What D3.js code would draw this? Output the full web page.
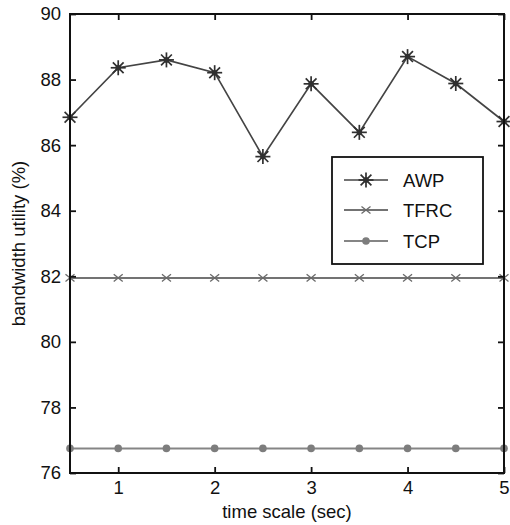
<!DOCTYPE html>
<html>
<head>
<meta charset="utf-8">
<script src="https://cdn.jsdelivr.net/npm/d3@7"></script>
<style>
  html, body { margin: 0; padding: 0; background: #fff; }
  svg text { font-family: "Liberation Sans", Arial, Helvetica, sans-serif; fill: #111; }
</style>
</head>
<body>
<svg id="chart" width="510" height="525"></svg>
<script>
// Time scale (sec) at which bandwidth utility was measured
const timeScale = [0.5, 1, 1.5, 2, 2.5, 3, 3.5, 4, 4.5, 5];
// Bandwidth utility (%) per protocol
const awp  = [86.85, 88.36, 88.6, 88.21, 85.65, 87.87, 86.39, 88.7, 87.88, 86.72];
const tfrc = [81.95, 81.95, 81.95, 81.95, 81.95, 81.95, 81.95, 81.95, 81.95, 81.95];
const tcp  = [76.75, 76.75, 76.75, 76.75, 76.75, 76.75, 76.75, 76.75, 76.75, 76.75];
const seriesNames = ["AWP", "TFRC", "TCP"];
const xTicks = [1, 2, 3, 4, 5];
const yTicks = [76, 78, 80, 82, 84, 86, 88, 90];

const svg = d3.select("#chart");
const plotLeft = 70, plotRight = 504, plotTop = 14, plotBottom = 473;
const fontSize = 18.5;

const x = d3.scaleLinear().domain([0.5, 5]).range([plotLeft, plotRight]);
const y = d3.scaleLinear().domain([76, 90]).range([plotBottom, plotTop]);

// Marker shapes: asterisk, cross, filled dot
function asterisk(g, cx, cy, r, color) {
  const p = g.append("g").attr("transform", `translate(${cx},${cy})`)
    .attr("stroke", color).attr("stroke-width", 1.7).attr("fill", "none");
  p.append("line").attr("x1", -r).attr("x2", r).attr("y1", 0).attr("y2", 0);
  p.append("line").attr("x1", 0).attr("x2", 0).attr("y1", -r).attr("y2", r);
  const d = r * 0.72;
  p.append("line").attr("x1", -d).attr("x2", d).attr("y1", -d).attr("y2", d);
  p.append("line").attr("x1", -d).attr("x2", d).attr("y1", d).attr("y2", -d);
  p.append("circle").attr("r", 2.8).attr("fill", color).attr("stroke", "none");
}
function cross(g, cx, cy, r, color) {
  const p = g.append("g").attr("transform", `translate(${cx},${cy})`)
    .attr("stroke", color).attr("stroke-width", 1.3).attr("fill", "none");
  p.append("line").attr("x1", -r).attr("x2", r).attr("y1", -r * 0.8).attr("y2", r * 0.8);
  p.append("line").attr("x1", -r).attr("x2", r).attr("y1", r * 0.8).attr("y2", -r * 0.8);
}
function dot(g, cx, cy, r, color) {
  g.append("circle").attr("cx", cx).attr("cy", cy).attr("r", r).attr("fill", color);
}

const styles = {
  AWP:  { data: awp,  line: "#444", width: 1.7, draw: (g, cx, cy) => asterisk(g, cx, cy, 7.5, "#303030") },
  TFRC: { data: tfrc, line: "#737373", width: 2,   draw: (g, cx, cy) => cross(g, cx, cy, 4.5, "#6a6a6a") },
  TCP:  { data: tcp,  line: "#858585", width: 2,   draw: (g, cx, cy) => dot(g, cx, cy, 3.8, "#7d7d7d") }
};

const line = d3.line().x(d => x(d[0])).y(d => y(d[1]));

// Series lines and markers (drawn last-to-first so AWP stays on top)
const plot = svg.append("g");
[...seriesNames].reverse().forEach(name => {
  const s = styles[name];
  const pts = timeScale.map((t, i) => [t, s.data[i]]);
  plot.append("path").attr("d", line(pts)).attr("fill", "none")
    .attr("stroke", s.line).attr("stroke-width", s.width);
  const mg = plot.append("g");
  pts.forEach(p => s.draw(mg, x(p[0]), y(p[1])));
});

// Axes: ticks point inward on all four sides
const tickLen = 6;
const axes = svg.append("g");
axes.append("g").attr("transform", `translate(0,${plotBottom})`)
  .call(d3.axisBottom(x).tickValues(xTicks).tickSize(-tickLen).tickPadding(8).tickFormat(d3.format("d")));
axes.append("g").attr("transform", `translate(0,${plotTop})`)
  .call(d3.axisTop(x).tickValues(xTicks).tickSize(-tickLen).tickFormat(""));
axes.append("g").attr("transform", `translate(${plotLeft},0)`)
  .call(d3.axisLeft(y).tickValues(yTicks).tickSize(-tickLen).tickPadding(9).tickFormat(d3.format("d")));
axes.append("g").attr("transform", `translate(${plotRight},0)`)
  .call(d3.axisRight(y).tickValues(yTicks).tickSize(-tickLen).tickFormat(""));
axes.selectAll(".domain").remove();
axes.selectAll(".tick line").attr("stroke", "#111").attr("stroke-width", 1.8);
axes.selectAll(".tick text").attr("font-size", fontSize)
  .attr("font-family", "'Liberation Sans', Arial, sans-serif").attr("fill", "#111");

// Box frame
svg.append("rect").attr("x", plotLeft).attr("y", plotTop)
  .attr("width", plotRight - plotLeft).attr("height", plotBottom - plotTop)
  .attr("fill", "none").attr("stroke", "#111").attr("stroke-width", 2);

// Axis titles
svg.append("text").attr("x", (plotLeft + plotRight) / 2).attr("y", 518)
  .attr("text-anchor", "middle").attr("font-size", fontSize).text("time scale (sec)");
svg.append("text").attr("transform", `translate(25,${(plotTop + plotBottom) / 2}) rotate(-90)`)
  .attr("text-anchor", "middle").attr("font-size", fontSize).text("bandwidth utility (%)");

// Legend
const lg = svg.append("g");
lg.append("rect").attr("x", 332).attr("y", 157).attr("width", 151).attr("height", 107)
  .attr("fill", "#fff").attr("stroke", "#111").attr("stroke-width", 1.8);
const rowY = [180, 210, 241];
seriesNames.forEach((name, i) => {
  const s = styles[name];
  lg.append("line").attr("x1", 344).attr("x2", 388).attr("y1", rowY[i]).attr("y2", rowY[i])
    .attr("stroke", s.line).attr("stroke-width", s.width);
  s.draw(lg, 366, rowY[i]);
  lg.append("text").attr("x", 403).attr("y", rowY[i] + 6.5)
    .attr("font-size", fontSize).text(name);
});
</script>
</body>
</html>
